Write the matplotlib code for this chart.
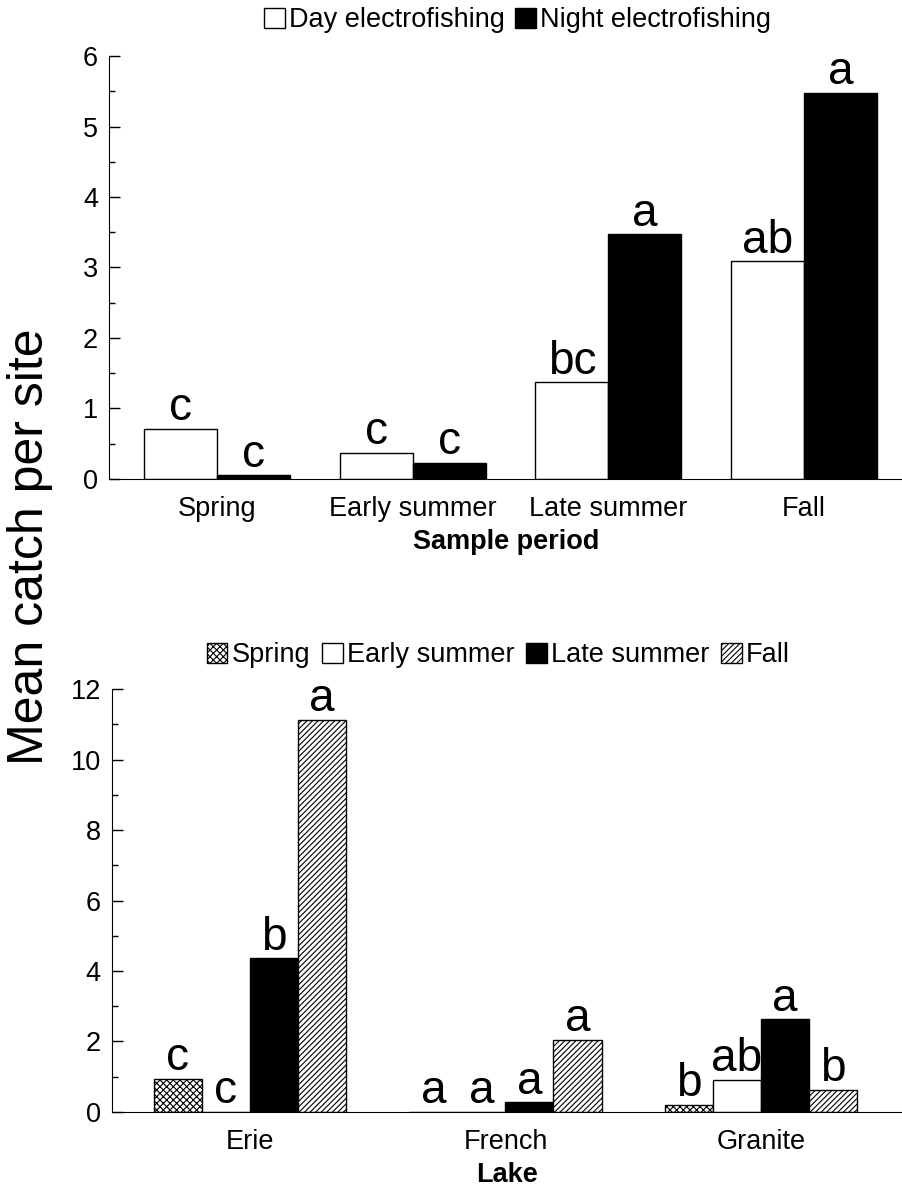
import numpy as np
import matplotlib
matplotlib.use("Agg")
from matplotlib import pyplot as plt
from matplotlib.patches import Patch

plt.rcParams['font.family'] = ['Liberation Sans', 'DejaVu Sans']
plt.rcParams['hatch.linewidth'] = 0.8

# top panel: catch by sample period and gear
periods = ["Spring", "Early summer", "Late summer", "Fall"]
day_catch = [0.71, 0.37, 1.37, 3.09]
night_catch = [0.05, 0.23, 3.47, 5.48]
day_letters = ["c", "c", "bc", "ab"]
night_letters = ["c", "c", "a", "a"]

# bottom panel: catch by lake and sample period
lakes = ["Erie", "French", "Granite"]
season_names = ["Spring", "Early summer", "Late summer", "Fall"]
lake_catch = {
    "Spring": [0.94, 0.0, 0.21],
    "Early summer": [0.0, 0.0, 0.92],
    "Late summer": [4.36, 0.28, 2.63],
    "Fall": [11.12, 2.05, 0.63],
}
lake_letters = {
    "Spring": ["c", "a", "b"],
    "Early summer": ["c", "a", "ab"],
    "Late summer": ["b", "a", "a"],
    "Fall": ["a", "a", "b"],
}

season_style = {
    "Spring": dict(facecolor="white", hatch="xxxxx"),
    "Early summer": dict(facecolor="white", hatch=None),
    "Late summer": dict(facecolor="black", hatch=None),
    "Fall": dict(facecolor="white", hatch="//////"),
}

LETTER_SIZE = 33
TICK_SIZE = 19.5


def style_axis(ax, ymax, major, minor):
    ax.spines['top'].set_visible(False)
    ax.spines['right'].set_visible(False)
    ax.set_ylim(0, ymax)
    ax.set_yticks(np.arange(0, ymax + 0.01, major))
    ax.set_yticks(np.arange(minor, ymax, major), minor=True)
    ax.tick_params(axis='y', which='major', direction='in', length=8, width=1,
                   labelsize=TICK_SIZE, pad=8)
    ax.tick_params(axis='y', which='minor', direction='in', length=4, width=1)
    ax.tick_params(axis='x', length=0, labelsize=TICK_SIZE, pad=12)


def label_bars(ax, bars, letters):
    for b, lab in zip(bars, letters):
        ax.annotate(lab, (b.get_x() + b.get_width() / 2, b.get_height()),
                    xytext=(0, -1), textcoords='offset points',
                    ha='center', va='bottom', fontsize=LETTER_SIZE)


fig = plt.figure(figsize=(9.03, 11.87), dpi=100)

# --- sample period panel ---
ax1 = fig.add_axes([0.1207, 0.5965, 0.8793, 0.3563])
x = np.arange(len(periods))
w = 0.373
b_day = ax1.bar(x - w / 2, day_catch, w, color="white", edgecolor="black", lw=1)
b_night = ax1.bar(x + w / 2, night_catch, w, color="black", edgecolor="black", lw=1)
label_bars(ax1, b_day, day_letters)
label_bars(ax1, b_night, night_letters)
style_axis(ax1, 6, 1, 0.5)
ax1.set_xlim(-0.552, 3.505)
ax1.set_xticks(x)
ax1.set_xticklabels(periods)
ax1.set_xlabel("Sample period", fontsize=TICK_SIZE, fontweight='bold', labelpad=5)
handles = [Patch(facecolor="white", edgecolor="black", label="Day electrofishing"),
           Patch(facecolor="black", edgecolor="black", label="Night electrofishing")]
fig.legend(handles=handles, loc='center', bbox_to_anchor=(0.573, 0.983), ncol=2,
           frameon=False, fontsize=TICK_SIZE, handlelength=0.75, handleheight=0.75,
           handletextpad=0.15, columnspacing=0.4, borderpad=0)

# --- lake panel ---
ax2 = fig.add_axes([0.124, 0.0632, 0.876, 0.3563])
xl = np.arange(len(lakes))
wl = 0.188
for k, s in enumerate(season_names):
    st = season_style[s]
    bars = ax2.bar(xl + (k - 1.5) * wl, lake_catch[s], wl, color=st["facecolor"],
                   edgecolor="black", lw=1, hatch=st["hatch"])
    label_bars(ax2, bars, lake_letters[s])
style_axis(ax2, 12, 2, 1)
ax2.set_xlim(-0.54, 2.556)
ax2.set_xticks(xl)
ax2.set_xticklabels(lakes)
ax2.set_xlabel("Lake", fontsize=TICK_SIZE, fontweight='bold', labelpad=5)
handles2 = [Patch(facecolor=season_style[s]["facecolor"], edgecolor="black",
                  hatch=season_style[s]["hatch"], label=s) for s in season_names]
fig.legend(handles=handles2, loc='center', bbox_to_anchor=(0.552, 0.448), ncol=4,
           frameon=False, fontsize=TICK_SIZE, handlelength=0.75, handleheight=0.75,
           handletextpad=0.15, columnspacing=0.45, borderpad=0)

fig.text(0.033, 0.539, "Mean catch per site", rotation=90, ha='center', va='center',
         fontsize=36)

fig.savefig("out.png", dpi=100)
